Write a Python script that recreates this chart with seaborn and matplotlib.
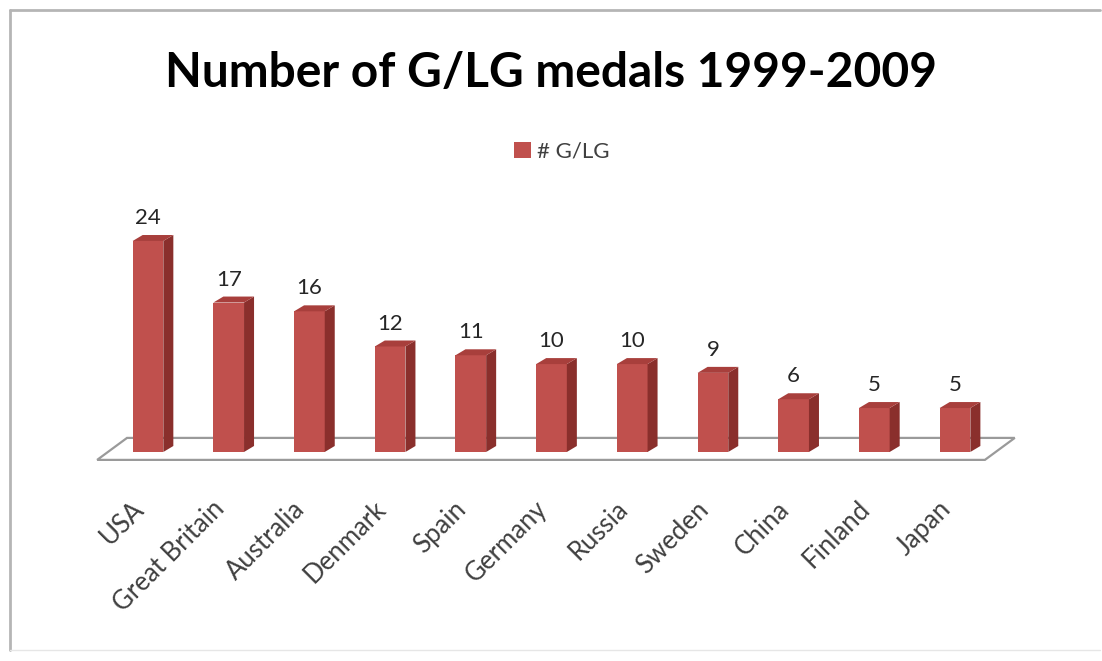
import matplotlib
matplotlib.use("Agg")
import matplotlib.pyplot as plt
from matplotlib.patches import Polygon
from matplotlib.lines import Line2D
import matplotlib.transforms as mtransforms
import seaborn as sns
import pandas as pd

countries = ["USA", "Great Britain", "Australia", "Denmark", "Spain", "Germany",
             "Russia", "Sweden", "China", "Finland", "Japan"]
medals = [24, 17, 16, 12, 11, 10, 10, 9, 6, 5, 5]
series_name = "# G/LG"
title = "Number of G/LG medals 1999-2009"

FRONT = "#C0504D"
SIDE = "#8A2F2C"
TOP = "#A83F3C"

sns.set_theme(style="white")
plt.rcParams["font.family"] = ["Lato", "DejaVu Sans"]

W, H = 1102, 661
fig = plt.figure(figsize=(W / 100, H / 100), dpi=100)

px_left, px_right, px_top, px_bottom = 91.5, 1019.6, 190, 470
ax = fig.add_axes([px_left / W, 1 - px_bottom / H, (px_right - px_left) / W, (px_bottom - px_top) / H])

df = pd.DataFrame({"country": countries, "medals": medals})
sns.barplot(data=df, x="country", y="medals", color=FRONT, width=0.38, ax=ax,
            saturation=1, label=series_name, edgecolor="none", zorder=3)
handles, labels = ax.get_legend_handles_labels()
if ax.get_legend() is not None:
    ax.get_legend().remove()

ax.set_xlim(-0.7, 10.8)
ax.set_ylim(-2.05, 29.8)

dx, dy = 0.124, 0.68

bars = list(ax.patches)
floor = Polygon([(-0.63, -0.9), (10.37, -0.9), (10.74, 1.6), (-0.26, 1.6)], closed=True,
                facecolor="white", edgecolor="#9A9A9A", lw=1.6, zorder=1)
ax.add_patch(floor)

for p in bars:
    x0, w, h = p.get_x(), p.get_width(), p.get_height()
    x1 = x0 + w
    side = Polygon([(x1, 0), (x1 + dx, dy), (x1 + dx, h + dy), (x1, h)], closed=True,
                   facecolor=SIDE, edgecolor="none", zorder=3)
    top = Polygon([(x0, h), (x0 + dx, h + dy), (x1 + dx, h + dy), (x1, h)], closed=True,
                  facecolor=TOP, edgecolor="none", zorder=3)
    ax.add_patch(side)
    ax.add_patch(top)
    ax.annotate(f"{int(round(h))}", (x0 + w / 2, h + dy), xytext=(0, 5), textcoords="offset points",
                ha="center", va="bottom", fontsize=16, color="#262626")

ax.set_xlabel("")
ax.set_ylabel("")
ax.set_yticks([])
ax.tick_params(axis="x", length=0, pad=19)
ax.set_xticks(range(len(countries)))
ax.set_xticklabels(countries, rotation=45, ha="right", rotation_mode="anchor",
                   fontsize=18.5, color="#404040")
shift = mtransforms.ScaledTranslation(-17 / 100, 0, fig.dpi_scale_trans)
for lab in ax.get_xticklabels():
    lab.set_transform(lab.get_transform() + shift)
for s in ax.spines.values():
    s.set_visible(False)
ax.patch.set_alpha(0)

fig.text(0.5, 1 - 73 / H, title, ha="center", va="center", fontsize=34.5,
         fontweight="bold", color="black")

fig.legend(handles[:1], labels[:1], loc="center", bbox_to_anchor=(562 / W, 1 - 152 / H),
           frameon=False, fontsize=16, handlelength=0.75, handleheight=0.75,
           handletextpad=0.3, labelcolor="#404040")

fig.add_artist(Line2D([10 / W, 10 / W], [1 - 10 / H, 1 - 650 / H], transform=fig.transFigure,
                      color="#B5B5B5", lw=2))
fig.add_artist(Line2D([10 / W, 1100 / W], [1 - 10 / H, 1 - 10 / H], transform=fig.transFigure,
                      color="#B5B5B5", lw=2))
fig.add_artist(Line2D([10 / W, 1100 / W], [1 - 650 / H, 1 - 650 / H], transform=fig.transFigure,
                      color="#E6E6E6", lw=1))

fig.savefig("out.png", dpi=100)
